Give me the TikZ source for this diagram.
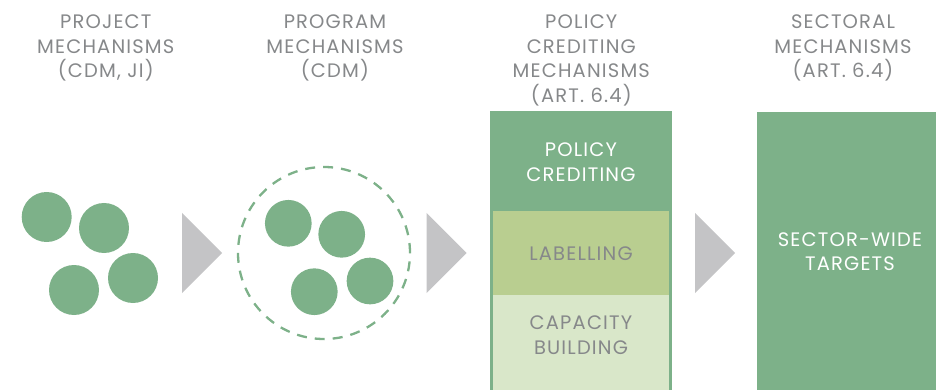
\documentclass[tikz,border=0pt]{standalone}
\usepackage{fontspec}
\setmainfont{Poppins}[LetterSpace=6]
\definecolor{mgreen}{HTML}{7DB189}
\definecolor{lgreen}{HTML}{B9CE90}
\definecolor{pgreen}{HTML}{D9E7C9}
\definecolor{tgray}{HTML}{86888A}
\definecolor{agray}{HTML}{C4C4C6}
\begin{document}
\begin{tikzpicture}[x=1pt,y=-1pt,
  dot/.style={circle,fill=mgreen,inner sep=0pt,minimum size=#1},
  head/.style={align=center,text=tgray,font=\fontsize{19.5}{24.5}\selectfont,anchor=north,inner sep=0pt},
  intext/.style={align=center,font=\fontsize{19.5}{24.5}\selectfont,inner sep=0pt},
  arrowtri/.style={fill=agray}]
\useasboundingbox (0,0) rectangle (942,390);
% headers
\node[head] (h1) at (105.8,15) {PROJECT\\MECHANISMS\\(CDM, JI)};
\node[head] (h2) at (335,15) {PROGRAM\\MECHANISMS\\(CDM)};
\node[head] (h3) at (581.3,15) {POLICY\\CREDITING\\MECHANISMS\\(ART. 6.4)};
\node[head] (h4) at (843,15) {SECTORAL\\MECHANISMS\\(ART. 6.4)};
% project circles
\node[dot=50pt] (a1) at (46.7,217) {};
\node[dot=50pt] (a2) at (104,228) {};
\node[dot=50pt] (a3) at (74,290) {};
\node[dot=50pt] (a4) at (133,278) {};
% arrows
\fill[arrowtri] (182,213) -- (222,253) -- (182,293) -- cycle;
\fill[arrowtri] (426.7,213) -- (466.7,253) -- (426.7,293) -- cycle;
\fill[arrowtri] (695,213) -- (735,253) -- (695,293) -- cycle;
% program
\node[circle,draw=mgreen,line width=2.3pt,dash pattern=on 10pt off 8pt,minimum size=172pt,inner sep=0pt] (prog) at (324,253) {};
\node[dot=46.7pt] (b1) at (288.3,223.3) {};
\node[dot=46.7pt] (b2) at (341.7,234.3) {};
\node[dot=46.7pt] (b3) at (314.3,291.7) {};
\node[dot=46.7pt] (b4) at (370,281) {};
% policy column
\fill[mgreen] (490,111) rectangle (671.7,390);
\fill[lgreen] (492.7,211) rectangle (669,295);
\fill[pgreen] (492.7,295) rectangle (669,390);
\node[intext,text=white] (pc) at (581,162) {POLICY\\CREDITING};
\node[intext,text=tgray] (lb) at (581,253.7) {LABELLING};
\node[intext,text=tgray] (cb) at (581,335.3) {CAPACITY\\BUILDING};
% sector box
\fill[mgreen] (757.3,112.3) rectangle (936,390);
\node[intext,text=white] (sw) at (850,251.7) {SECTOR-WIDE\\TARGETS};
\end{tikzpicture}
\end{document}
